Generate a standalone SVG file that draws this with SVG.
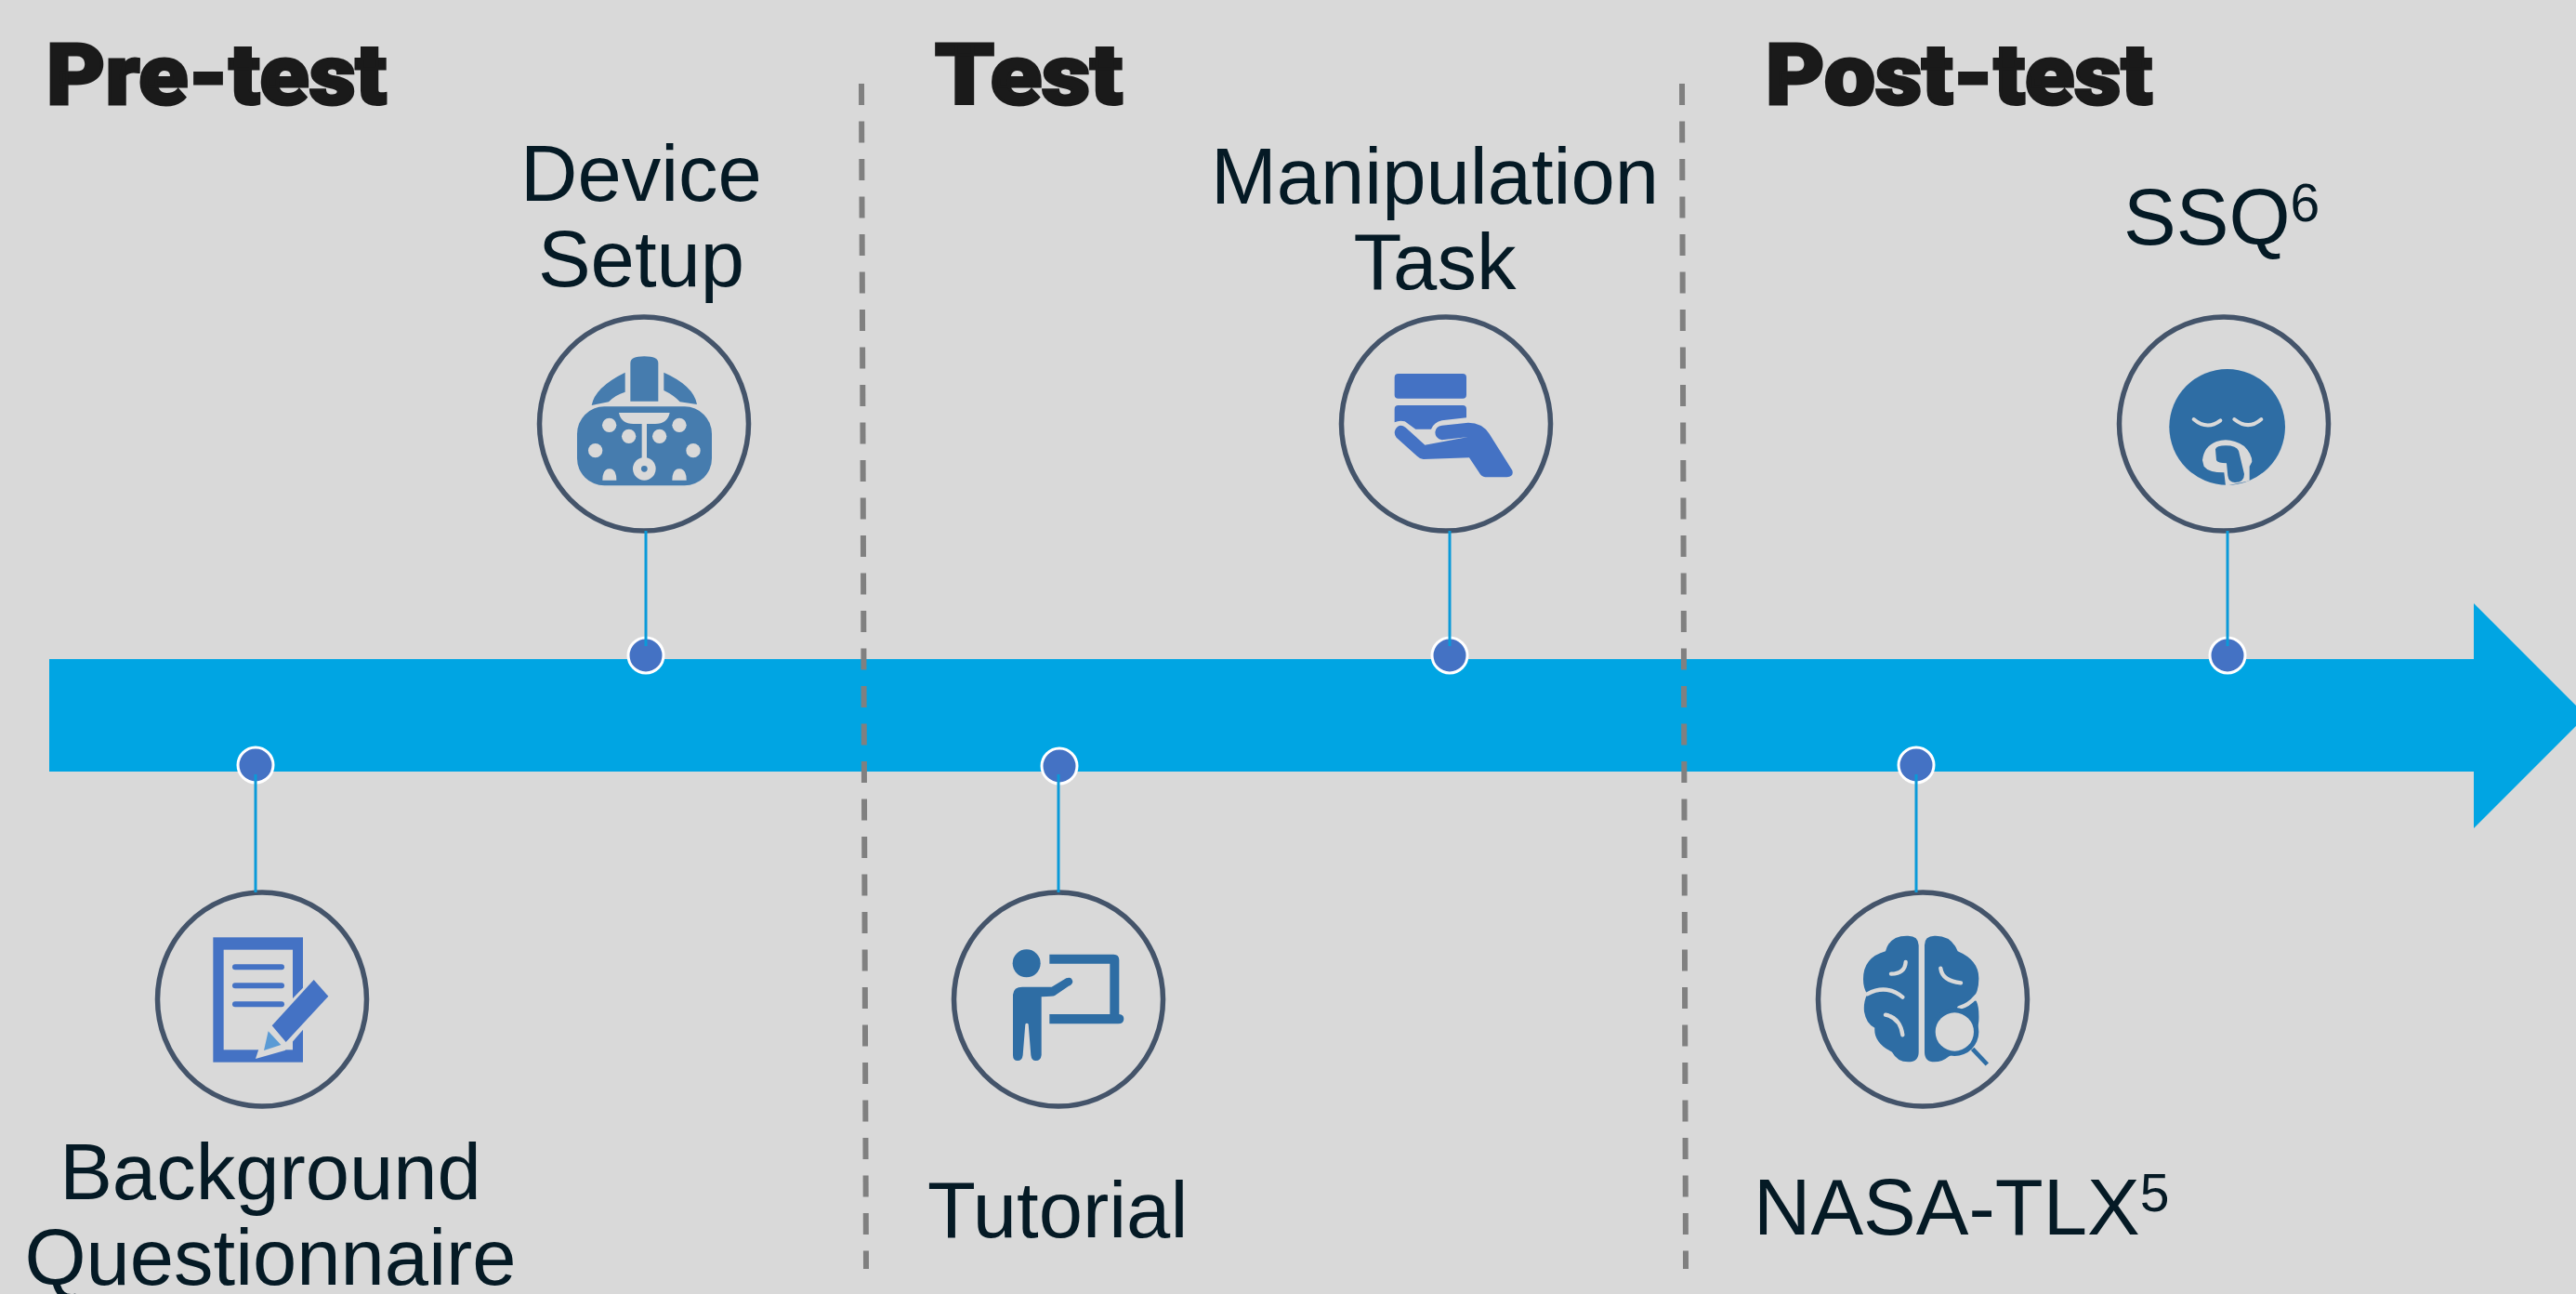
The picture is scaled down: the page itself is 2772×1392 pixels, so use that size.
<svg xmlns="http://www.w3.org/2000/svg" width="2772" height="1392" viewBox="0 0 2772 1392">
<style>
.t{font-family:"Liberation Sans",Arial,sans-serif;font-size:85px;fill:#051a25}
.m{text-anchor:middle}
.h{font-family:Roboto,"Liberation Sans",Arial,sans-serif;font-weight:900;font-size:90px;fill:#1a1a1a;stroke:#1a1a1a;stroke-width:3px;stroke-linejoin:miter}
.ring{fill:none;stroke:#44546a;stroke-width:5.5}
.dot{fill:#4472c4;stroke:#fff;stroke-width:3}
.conn{stroke:#0a9ad9;stroke-width:3;fill:none}
.dash{stroke:#808080;stroke-width:6;stroke-dasharray:23 17.5;fill:none}
.bg{fill:#d9d9d9}
.g{stroke:#d9d9d9;fill:none;stroke-linecap:round}
</style>
<rect width="2772" height="1392" fill="#d9d9d9"/>
<g id="timeline"><path d="M53 709H2662V649L2783 770L2662 891V830H53Z" fill="#00a5e3"/></g>
<g id="dividers">
<path class="dash" d="M927 90L932 1365"/>
<path class="dash" d="M1810 90L1814 1365"/>
</g>
<g id="headings">
<text class="h" x="50" y="112" textLength="366" lengthAdjust="spacingAndGlyphs">Pre-test</text>
<text class="h" x="1006" y="112" textLength="202" lengthAdjust="spacingAndGlyphs">Test</text>
<text class="h" x="1900" y="112" textLength="416" lengthAdjust="spacingAndGlyphs">Post-test</text>
</g>
<g id="device-setup">
<ellipse class="ring" cx="693" cy="456" rx="112.5" ry="115"/>
<g transform="translate(540 320) scale(.33333)" fill="#467cae">
<path d="M415 212Q415 190 460 190Q505 190 505 212V335H415Z"/>
<path d="M398 242V305Q365 315 345 337L290 348Q300 290 398 242Z"/>
<path d="M523 242V300Q555 315 575 337L630 345Q620 285 523 242Z"/>
<rect x="243" y="352" width="435" height="255" rx="88"/>
<path class="bg" d="M378 372H542Q535 408 495 408H468V520H452V408H425Q385 408 378 372Z"/>
<circle class="bg" cx="460" cy="553" r="37"/><circle cx="460" cy="553" r="10"/>
<circle class="bg" cx="347" cy="412" r="23"/><circle class="bg" cx="410" cy="448" r="23"/><circle class="bg" cx="509" cy="448" r="23"/><circle class="bg" cx="573" cy="412" r="23"/><circle class="bg" cx="302" cy="494" r="23"/><circle class="bg" cx="618" cy="494" r="23"/>
<path class="bg" d="M325 590Q325 553 348 553Q370 553 370 590Z"/><path class="bg" d="M550 590Q550 553 573 553Q596 553 596 590Z"/>
</g>
<circle class="dot" cx="695" cy="705" r="19"/>
<text class="t m" x="690" y="216">Device</text>
<text class="t m" x="690" y="308">Setup</text>
</g>
<g id="manipulation-task">
<ellipse class="ring" cx="1556" cy="456" rx="112.5" ry="115"/>
<g transform="translate(1420 320) scale(.33333)" fill="#4472c4">
<rect x="242" y="246" width="232" height="80" rx="12"/>
<path d="M254 348H462Q474 348 474 360V388L395 397Q370 402 360 425H310L275 400Q258 395 242 403V360Q242 348 254 348Z"/>
<path d="M245 425Q258 405 278 420L340 476L480 450L395 460Q373 455 373 435Q375 415 395 413L480 404Q525 404 548 440L622 558Q628 578 605 580H535Q522 578 515 565L483 517L335 522Q325 522 315 512L248 452Q238 440 245 425Z"/>
</g>
<circle class="dot" cx="1560" cy="705" r="19"/>
<text class="t m" x="1544" y="219">Manipulation</text>
<text class="t m" x="1544" y="311">Task</text>
</g>
<g id="ssq">
<ellipse class="ring" cx="2393" cy="456" rx="112.5" ry="115"/>
<g transform="translate(2260 320) scale(.33333)" fill="#2e6da4">
<circle cx="410" cy="418" r="187"/>
<path class="g" stroke-width="12" d="M302 393Q345 430 388 397M433 393Q478 430 520 393"/>
<path class="bg" d="M330 525Q335 480 375 465Q420 450 465 480Q490 505 490 530L482 545L482 592L405 608L400 565Q350 565 335 545Z"/>
<path d="M372 490Q375 478 405 478Q440 478 447 495L465 570Q465 597 435 597Q415 597 412 575L408 535Q380 535 375 525Z"/>
</g>
<circle class="dot" cx="2397" cy="705" r="19"/>
<text class="t" x="2285" y="263">SSQ<tspan font-size="57" dy="-25">6</tspan></text>
</g>
<g id="background-questionnaire">
<ellipse class="ring" cx="282" cy="1075" rx="112.5" ry="115"/>
<g transform="translate(150 940) scale(.33333)" fill="#4472c4">
<rect x="238" y="205" width="290" height="403"/>
<rect class="bg" x="272" y="245" width="223" height="323"/>
<rect x="300" y="292" width="168" height="18" rx="9"/><rect x="300" y="352" width="168" height="18" rx="9"/><rect x="300" y="412" width="168" height="18" rx="9"/>
<path class="bg" d="M565 330L622 395L470 570L375 597L410 490Z"/>
<path d="M563 342L610 395L473 543L428 490Z"/>
<path d="M416 508L457 552L402 570Z" fill="#5b9bd5"/>
</g>
<circle class="dot" cx="275" cy="823" r="19"/>
<text class="t m" x="291" y="1290">Background</text>
<text class="t m" x="291" y="1382">Questionnaire</text>
</g>
<g id="tutorial">
<ellipse class="ring" cx="1139" cy="1075" rx="112.5" ry="115"/>
<g transform="translate(1010 940) scale(.33333)" fill="#2e6da4">
<circle cx="284" cy="289" r="45"/>
<path d="M240 390Q242 365 270 365H365L412 337Q430 330 433 348Q432 358 420 362L375 393Q370 396 332 397V585Q330 603 314 603Q300 603 298 585L290 485Q285 480 280 485L272 585Q270 603 255 603Q240 603 240 585Z"/>
<path d="M358 260H565Q583 260 583 278V453Q598 455 598 468Q598 484 580 484H358V453H553V290H358Z"/>
</g>
<circle class="dot" cx="1140" cy="824" r="19"/>
<text class="t" x="998" y="1331">Tutorial</text>
</g>
<g id="nasa-tlx">
<ellipse class="ring" cx="2069" cy="1075" rx="112.5" ry="115"/>
<g transform="translate(1930 940) scale(.33333)" fill="#2e6da4">
<path d="M404 230Q403 200 370 200Q310 198 297 250Q225 270 225 340Q225 370 238 388Q225 415 228 445Q235 485 262 497Q258 545 318 575Q335 607 370 607Q404 607 404 575Z"/>
<path d="M423 230Q423 200 455 200Q510 198 530 250Q600 280 598 340Q598 385 575 408L590 410Q600 430 598 475Q596 540 500 590Q480 607 455 607Q423 607 423 575Z"/>
<path class="g" stroke-width="13" d="M362 285Q360 322 315 323M238 388Q300 355 352 398M297 455Q345 465 352 520M475 305Q480 345 540 352M535 432Q565 425 590 395"/>
<circle cx="520" cy="510" r="78"/>
<circle class="bg" cx="520" cy="510" r="62"/>
<path d="M578 565L625 615" stroke="#2e6da4" stroke-width="14"/>
</g>
<circle class="dot" cx="2062" cy="823" r="19"/>
<text class="t" x="1887" y="1328">NASA-TLX<tspan font-size="57" dy="-25">5</tspan></text>
</g>
<g id="connectors">
<path class="conn" d="M695 571V695"/>
<path class="conn" d="M1560 571V695"/>
<path class="conn" d="M2397 571V695"/>
<path class="conn" d="M275 833V960"/>
<path class="conn" d="M1139 833V960"/>
<path class="conn" d="M2062 833V960"/>
</g>
</svg>
